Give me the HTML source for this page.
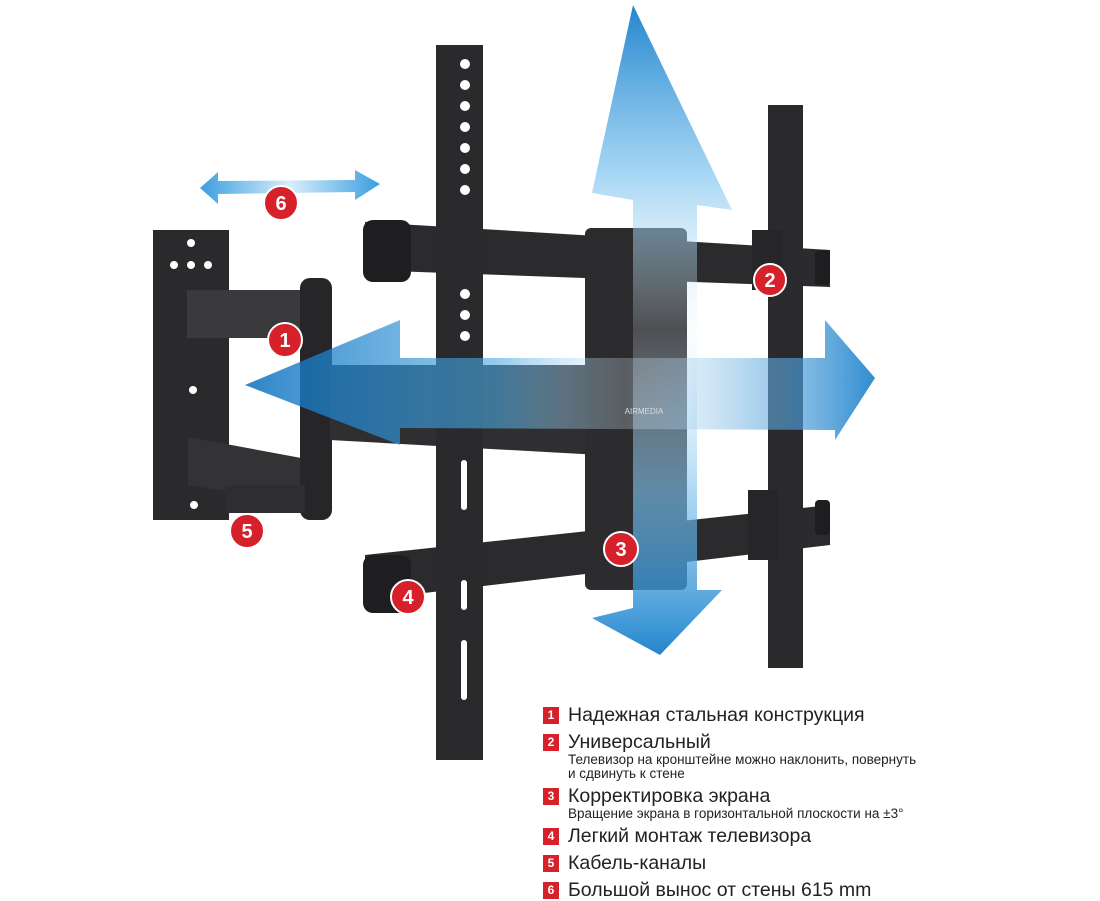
<!DOCTYPE html>
<html><head><meta charset="utf-8"><style>
body{margin:0;background:#fff;width:1100px;height:900px;overflow:hidden;position:relative;font-family:"Liberation Sans","Noto Sans CJK SC",sans-serif}
.leg{position:absolute;left:543px;color:#222}
.n{display:inline-block;width:16px;height:17px;background:#d6202a;color:#fff;font-size:12px;font-weight:bold;text-align:center;line-height:17px;vertical-align:top;margin-top:3px;margin-right:9px}
.t{font-size:19.5px;line-height:22px}
.s{font-size:13.5px;line-height:14px;margin-left:25px}
</style></head><body>
<svg width="1100" height="900" style="position:absolute;left:0;top:0">
<defs>
<linearGradient id="gv" x1="0" y1="0" x2="0" y2="1"><stop offset="0" stop-color="#0a78c8"/><stop offset="0.25" stop-color="#7cc2ee" stop-opacity=".8"/><stop offset="0.5" stop-color="#e8f4fc" stop-opacity=".2"/><stop offset="0.75" stop-color="#7cc2ee" stop-opacity=".7"/><stop offset="1" stop-color="#0a78c8"/></linearGradient>
<linearGradient id="gh" x1="0" y1="0" x2="1" y2="0"><stop offset="0" stop-color="#0a6fbf"/><stop offset="0.4" stop-color="#4aa8e0" stop-opacity=".7"/><stop offset="0.6" stop-color="#e0f0fb" stop-opacity=".3"/><stop offset="1" stop-color="#0a78c8"/></linearGradient>
<linearGradient id="g6" x1="0" y1="0" x2="1" y2="0"><stop offset="0" stop-color="#3a9ee0"/><stop offset=".5" stop-color="#d8eefa"/><stop offset="1" stop-color="#3a9ee0"/></linearGradient>
</defs>
<rect x="153" y="230" width="76" height="290" fill="#2a2a2c"/>
<g fill="#fff"><circle cx="191" cy="243" r="4"/><circle cx="174" cy="265" r="4"/><circle cx="191" cy="265" r="4"/><circle cx="208" cy="265" r="4"/><circle cx="193" cy="390" r="4"/><circle cx="194" cy="505" r="4"/></g>
<rect x="187" y="290" width="125" height="48" fill="#3a3a3c"/>
<polygon points="188,437 312,460 312,505 188,485" fill="#333335"/>
<rect x="300" y="278" width="32" height="242" rx="10" fill="#262628"/>
<rect x="225" y="485" width="80" height="28" fill="#2e2e30"/>
<polygon points="365,222 830,250 830,287 365,270" fill="#2b2b2d"/>
<rect x="363" y="220" width="48" height="62" rx="10" fill="#1e1e20"/>
<polygon points="365,555 830,505 830,545 365,600" fill="#2b2b2d"/>
<rect x="363" y="555" width="48" height="58" rx="10" fill="#1e1e20"/>
<rect x="815" y="250" width="15" height="35" rx="4" fill="#1e1e20"/>
<rect x="815" y="500" width="15" height="35" rx="4" fill="#1e1e20"/>
<polygon points="330,365 600,365 600,455 330,440" fill="#2f2f31"/>
<rect x="436" y="45" width="47" height="715" fill="#2a2a2c"/>
<g fill="#fff"><circle cx="465" cy="64" r="5"/><circle cx="465" cy="85" r="5"/><circle cx="465" cy="106" r="5"/><circle cx="465" cy="127" r="5"/><circle cx="465" cy="148" r="5"/><circle cx="465" cy="169" r="5"/><circle cx="465" cy="190" r="5"/><circle cx="465" cy="294" r="5"/><circle cx="465" cy="315" r="5"/><circle cx="465" cy="336" r="5"/><rect x="461" y="460" width="6" height="50" rx="3"/><rect x="461" y="580" width="6" height="30" rx="3"/><rect x="461" y="640" width="6" height="60" rx="3"/></g>
<rect x="768" y="105" width="35" height="563" fill="#2a2a2c"/>
<rect x="752" y="230" width="30" height="60" fill="#262628"/>
<rect x="748" y="490" width="30" height="70" fill="#262628"/>
<rect x="585" y="228" width="102" height="362" rx="6" fill="#2c2c2e"/>
<polygon points="633,5 732,210 697,205 697,590 722,590 660,655 592,618 633,608 633,200 592,193" fill="url(#gv)" opacity=".9"/>
<polygon points="245,385 400,320 400,358 825,358 825,320 875,378 835,440 835,430 400,428 400,445" fill="url(#gh)" opacity=".85"/>
<text x="644" y="414" fill="#ddd" font-size="8" text-anchor="middle" font-family="Liberation Sans,sans-serif">AIRMEDIA</text>
<polygon points="200,188 218,172 218,181 355,180 355,170 380,184 355,200 355,192 218,194 218,204" fill="url(#g6)"/>
<g fill="#d6202a" stroke="#fff" stroke-width="2"><circle cx="281" cy="203" r="17"/><circle cx="285" cy="340" r="17"/><circle cx="770" cy="280" r="16"/><circle cx="621" cy="549" r="17"/><circle cx="408" cy="597" r="17"/><circle cx="247" cy="531" r="17"/></g>
<g fill="#fff" font-weight="bold" font-size="20" text-anchor="middle" font-family="Liberation Sans,sans-serif"><text x="281" y="210">6</text><text x="285" y="347">1</text><text x="770" y="287">2</text><text x="621" y="556">3</text><text x="408" y="604">4</text><text x="247" y="538">5</text></g>
</svg>
<div class="leg" style="top:704px"><span class="n">1</span><span class="t">Надежная стальная конструкция</span></div>
<div class="leg" style="top:731px"><span class="n">2</span><span class="t">Универсальный</span><div class="s">Телевизор на кронштейне можно наклонить, повернуть<br>и сдвинуть к стене</div></div>
<div class="leg" style="top:785px"><span class="n">3</span><span class="t">Корректировка экрана</span><div class="s">Вращение экрана в горизонтальной плоскости на ±3°</div></div>
<div class="leg" style="top:825px"><span class="n">4</span><span class="t">Легкий монтаж телевизора</span></div>
<div class="leg" style="top:852px"><span class="n">5</span><span class="t">Кабель-каналы</span></div>
<div class="leg" style="top:879px"><span class="n">6</span><span class="t">Большой вынос от стены 615 mm</span></div>
</body></html>
